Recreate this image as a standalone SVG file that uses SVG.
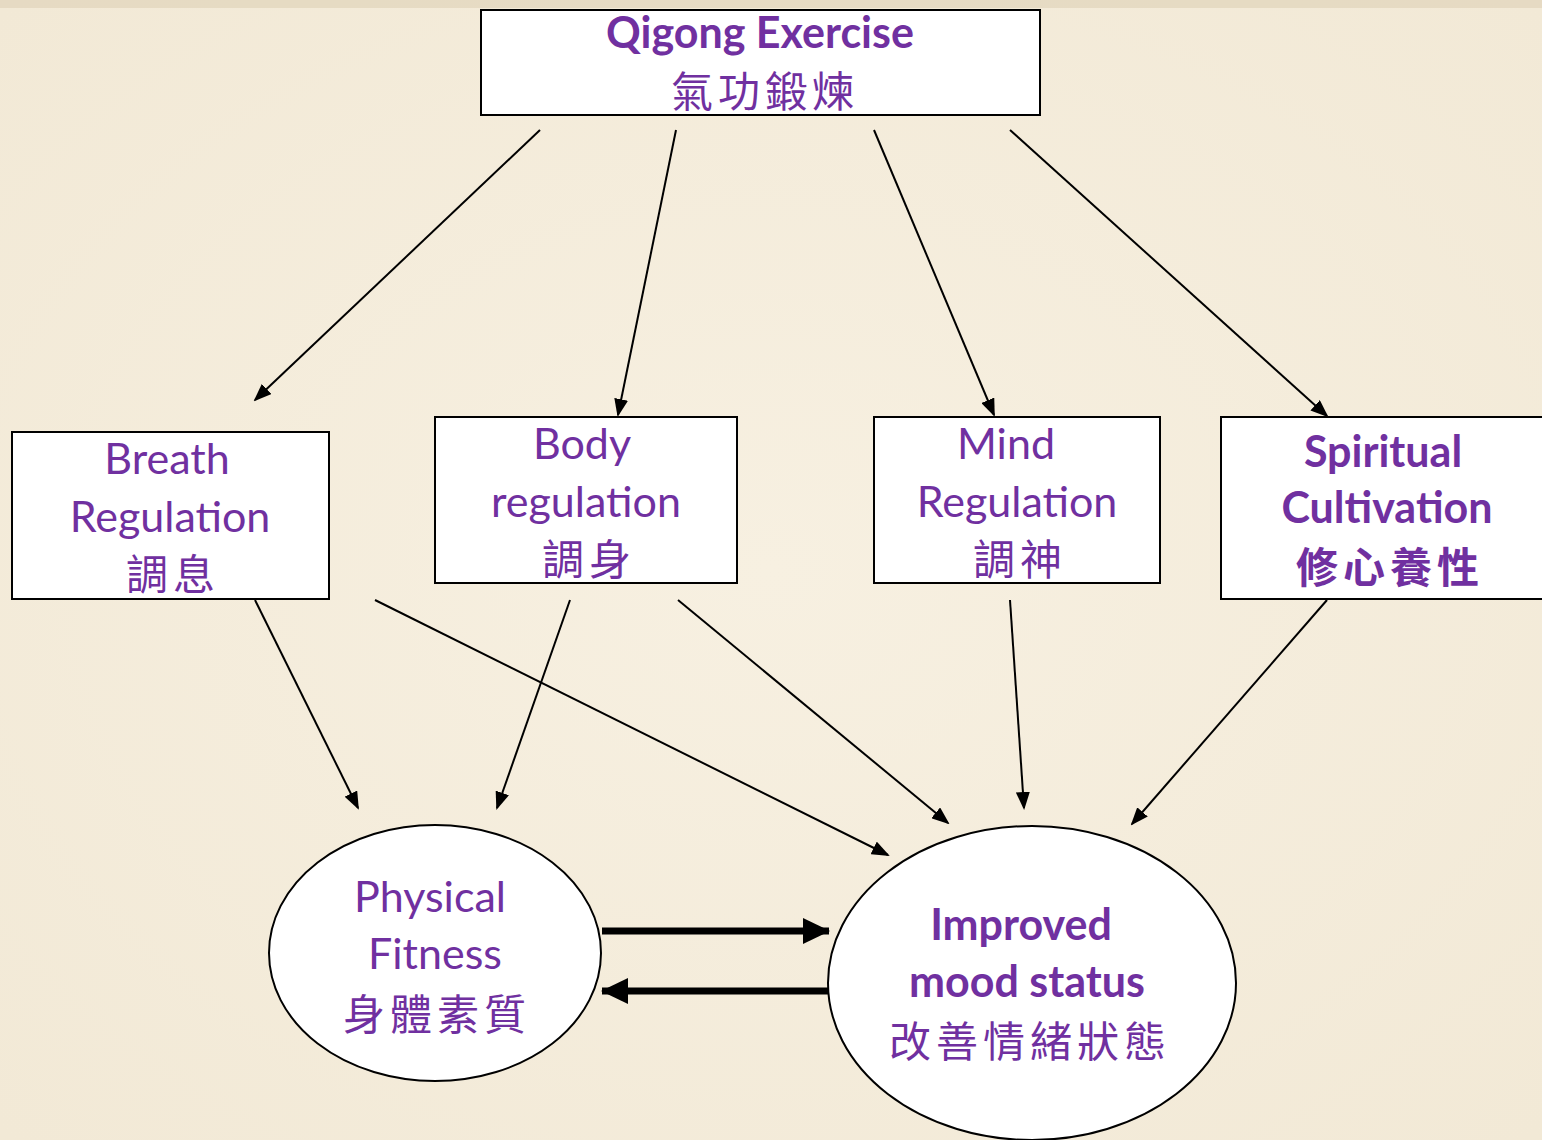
<svg xmlns="http://www.w3.org/2000/svg" width="1542" height="1140" viewBox="0 0 1542 1140">
<defs>
<style>
.bx{fill:#fff;stroke:#000;stroke-width:2}
.t{font-family:Lato,"Open Sans","Noto Sans CJK TC",sans-serif;fill:#7030a0;text-anchor:middle;font-size:43px}
.b{font-weight:bold}
.c{font-family:"Noto Sans CJK TC",sans-serif;fill:#7030a0;text-anchor:middle;font-size:42px;letter-spacing:5px}
.cb{font-weight:bold}
.ln{stroke:#000;stroke-width:2;fill:none;marker-end:url(#ah)}
.tk{stroke:#000;stroke-width:7;fill:none;marker-end:url(#ahb)}
</style>
<marker id="ah" markerUnits="userSpaceOnUse" markerWidth="18" markerHeight="14" refX="16" refY="7" orient="auto"><path d="M0,0 L18,7 L0,14 Z" fill="#000"/></marker>
<marker id="ahb" markerUnits="userSpaceOnUse" markerWidth="27" markerHeight="26" refX="26" refY="13" orient="auto"><path d="M0,0 L27,13 L0,26 Z" fill="#000"/></marker>
<radialGradient id="bg" cx="50%" cy="50%" r="70%"><stop offset="0" stop-color="#f7f0e1"/><stop offset="1" stop-color="#f2e9d6"/></radialGradient>
</defs>
<rect width="1542" height="1140" fill="url(#bg)"/>
<rect width="1542" height="8" fill="#ddd0b6" opacity="0.6"/>
<g id="connectors">
<line class="ln" x1="540" y1="130" x2="255" y2="400"/>
<line class="ln" x1="676" y1="130" x2="618" y2="415"/>
<line class="ln" x1="874" y1="130" x2="994" y2="415"/>
<line class="ln" x1="1010" y1="130" x2="1327" y2="416"/>
<line class="ln" x1="255" y1="600" x2="358" y2="808"/>
<line class="ln" x1="375" y1="600" x2="888" y2="855"/>
<line class="ln" x1="570" y1="600" x2="497" y2="808"/>
<line class="ln" x1="678" y1="600" x2="948" y2="823"/>
<line class="ln" x1="1010" y1="600" x2="1024" y2="808"/>
<line class="ln" x1="1327" y1="600" x2="1132" y2="824"/>
<line class="tk" x1="602" y1="931" x2="829" y2="931"/>
<line class="tk" x1="829" y1="991" x2="602" y2="991"/>
</g>
<g id="qigong">
<rect class="bx" x="481" y="10" width="559" height="105"/>
<text class="t b" x="760" y="48" font-size="41">Qigong Exercise</text>
<text class="c" x="765" y="107" font-size="43">氣功鍛煉</text>
</g>
<g id="breath">
<rect class="bx" x="12" y="432" width="317" height="167"/>
<text class="t" x="167" y="474">Breath</text>
<text class="t" x="170" y="532">Regulation</text>
<text class="c" x="173" y="590">調息</text>
</g>
<g id="body">
<rect class="bx" x="435" y="417" width="302" height="166"/>
<text class="t" x="582" y="459">Body</text>
<text class="t" x="586" y="517">regulation</text>
<text class="c" x="589" y="575">調身</text>
</g>
<g id="mind">
<rect class="bx" x="874" y="417" width="286" height="166"/>
<text class="t" x="1006" y="459">Mind</text>
<text class="t" x="1017" y="517">Regulation</text>
<text class="c" x="1020" y="575">調神</text>
</g>
<g id="spiritual">
<rect class="bx" x="1221" y="417" width="330" height="182"/>
<text class="t b" x="1383" y="467">Spiritual</text>
<text class="t b" x="1387" y="523">Cultivation</text>
<text class="c cb" x="1390" y="583">修心養性</text>
</g>
<g id="physical">
<ellipse class="bx" cx="435" cy="953" rx="166" ry="128"/>
<text class="t" x="430" y="912">Physical</text>
<text class="t" x="435" y="969">Fitness</text>
<text class="c" x="437" y="1030">身體素質</text>
</g>
<g id="mood">
<ellipse class="bx" cx="1032" cy="983" rx="204" ry="157"/>
<text class="t b" x="1021" y="940">Improved</text>
<text class="t b" x="1027" y="997">mood status</text>
<text class="c" x="1030" y="1057">改善情緒狀態</text>
</g>
</svg>
